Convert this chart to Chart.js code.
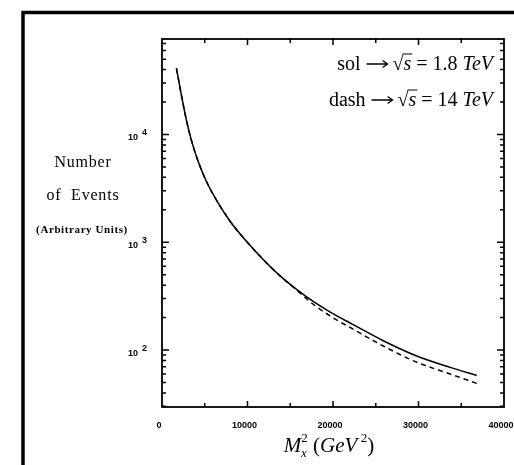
<!DOCTYPE html>
<html lang="en">
<head>
  <meta charset="UTF-8">
  <title>Number of Events vs Mx^2</title>
  <script src="https://cdn.jsdelivr.net/npm/chart.js"></script>
  <style>
    body {
      margin: 0;
      background: #fff;
    }

    #chartContainer {
      width: 514px;
      height: 465px;
    }
  </style>
</head>
<body>
  <div id="chartContainer">
    <canvas id="myChart"></canvas>
  </div>

  <script>
    // values (x in GeV^2, y in arbitrary units)
    const xValues = [1690, 2270, 2860, 3440, 4220, 5200, 6560, 8000, 9880, 11830, 13780, 15740, 17680, 19630, 22300, 25880, 29790, 33690, 36810];
    const solidValues = [41100, 23200, 13500, 8810, 5650, 3660, 2320, 1550, 1020, 692, 490, 365, 282, 226, 173, 122, 88, 69, 58];
    const dashedValues = [41100, 23200, 13500, 8810, 5650, 3660, 2320, 1550, 1020, 692, 490, 361, 266, 208, 157, 109, 77, 60, 49];

    const xTickLabels = [0, 10000, 20000, 30000, 40000];
    const yTickLabels = [100, 1000, 10000];
    const xMin = 0, xMax = 40000;
    const yMin = 29.6, yMax = 76900;

    const serif = '"Liberation Serif", "DejaVu Serif", serif';
    const sans = '"Liberation Sans", Arial, sans-serif';

    function toPoints(xs, ys) {
      return xs.map((x, i) => ({ x: x, y: ys[i] }));
    }

    // draws a row of text pieces with different fonts; p.gap leaves blank room (for the arrow)
    function drawPieces(ctx, pieces, x, y, align) {
      let total = 0;
      pieces.forEach(p => {
        ctx.font = p.font || ctx.font;
        p.w = p.gap ? p.gap : ctx.measureText(p.t).width;
        total += p.w;
      });
      let cx = align === 'right' ? x - total : align === 'center' ? x - total / 2 : x;
      pieces.forEach(p => {
        if (!p.gap) {
          ctx.font = p.font;
          ctx.fillText(p.t, cx, y + (p.dy || 0));
        }
        p.x = cx;
        cx += p.w;
      });
      return pieces;
    }

    const paperPlugin = {
      id: 'paper',
      afterDraw(chart) {
        const ctx = chart.ctx;
        const area = chart.chartArea;
        const xs = chart.scales.x;
        const ys = chart.scales.y;
        ctx.save();
        ctx.fillStyle = '#000';
        ctx.strokeStyle = '#000';

        // scanned page frame
        ctx.lineWidth = 3.5;
        ctx.beginPath();
        ctx.moveTo(23, 465);
        ctx.lineTo(23, 12.5);
        ctx.lineTo(514, 12.5);
        ctx.stroke();

        // plot box
        ctx.lineWidth = 1.8;
        ctx.strokeRect(area.left, area.top, area.right - area.left, area.bottom - area.top);

        // inward ticks, x axis (bottom and top)
        ctx.lineWidth = 1.5;
        for (let v = 5000; v < xMax; v += 5000) {
          const px = xs.getPixelForValue(v);
          const len = v % 10000 === 0 ? 6 : 4;
          ctx.beginPath();
          ctx.moveTo(px, area.bottom);
          ctx.lineTo(px, area.bottom - len);
          ctx.moveTo(px, area.top);
          ctx.lineTo(px, area.top + len);
          ctx.stroke();
        }

        // inward ticks, log y axis (left and right)
        for (let dec = 1; dec <= 4; dec++) {
          for (let m = 1; m <= 9; m++) {
            const v = m * Math.pow(10, dec);
            if (v < yMin || v > yMax) continue;
            const py = ys.getPixelForValue(v);
            const len = m === 1 ? 7 : 4;
            ctx.beginPath();
            ctx.moveTo(area.left, py);
            ctx.lineTo(area.left + len, py);
            ctx.moveTo(area.right, py);
            ctx.lineTo(area.right - len, py);
            ctx.stroke();
          }
        }

        // x tick labels
        ctx.textBaseline = 'middle';
        ctx.textAlign = 'center';
        ctx.font = 'bold 9px ' + sans;
        xTickLabels.forEach(v => {
          ctx.fillText(String(v), xs.getPixelForValue(v) - 3, 426);
        });

        // y tick labels as 10 with superscript exponent
        yTickLabels.forEach(v => {
          const py = ys.getPixelForValue(v);
          const exp = Math.round(Math.log10(v));
          ctx.font = 'bold 9px ' + sans;
          ctx.textAlign = 'right';
          ctx.fillText('10', 138, py + 3);
          ctx.textAlign = 'left';
          ctx.fillText(String(exp), 142, py - 2);
        });

        // y axis title, written horizontally
        ctx.textAlign = 'center';
        ctx.letterSpacing = '0.8px';
        ctx.font = '16px ' + serif;
        ctx.fillText('Number', 83, 163);
        ctx.fillText('of  Events', 83, 196);
        ctx.letterSpacing = '0.6px';
        ctx.font = 'bold 11px ' + serif;
        ctx.fillText('(Arbitrary Units)', 82, 230);
        ctx.letterSpacing = '0px';

        // legend lines
        ctx.textAlign = 'left';
        ctx.textBaseline = 'alphabetic';
        const fs = 20;
        const rom = fs + 'px ' + serif;
        const ita = 'italic ' + fs + 'px ' + serif;
        [['sol', '1.8'], ['dash', '14']].forEach((row, i) => {
          const base = 70 + i * 36;
          const parts = drawPieces(ctx, [
            { t: row[0] + ' ', font: rom },
            { gap: 22 },
            { t: ' \u221A', font: rom },
            { t: 's', font: ita },
            { t: ' = ' + row[1] + ' ', font: rom },
            { t: 'TeV', font: ita }
          ], 493, base, 'right');
          // arrow
          const ay = base - fs * 0.3;
          const ax0 = parts[1].x + 1, ax1 = parts[1].x + parts[1].w;
          ctx.lineWidth = 1.3;
          ctx.beginPath();
          ctx.moveTo(ax0, ay);
          ctx.lineTo(ax1, ay);
          ctx.moveTo(ax1 - 5, ay - 3.5);
          ctx.lineTo(ax1, ay);
          ctx.lineTo(ax1 - 5, ay + 3.5);
          ctx.stroke();
          // root bar
          ctx.lineWidth = 1;
          ctx.beginPath();
          ctx.moveTo(parts[2].x + parts[2].w - 1, base - fs * 0.8);
          ctx.lineTo(parts[3].x + parts[3].w + 1, base - fs * 0.8);
          ctx.stroke();
        });

        // x axis title: M_x^2 (GeV^2)
        const tfs = 21;
        const tRom = tfs + 'px ' + serif;
        const tIta = 'italic ' + tfs + 'px ' + serif;
        const tBase = 452;
        const title = drawPieces(ctx, [
          { t: 'M', font: tIta },
          { t: '2', font: '13px ' + serif, dy: -10 },
          { t: ' (', font: tRom },
          { t: 'GeV', font: tIta },
          { t: ' 2', font: '13px ' + serif, dy: -10 },
          { t: ')', font: tRom }
        ], 329, tBase, 'center');
        ctx.font = 'italic 12px ' + serif;
        ctx.fillText('x', title[1].x, tBase + 5);

        ctx.restore();
      }
    };

    const ctx = document.getElementById('myChart').getContext('2d');

    const myChart = new Chart(ctx, {
      type: 'line',
      data: {
        datasets: [
          {
            label: 'dash',
            data: toPoints(xValues, dashedValues),
            borderColor: '#000',
            borderWidth: 1.5,
            borderDash: [5, 4],
            pointRadius: 0,
            fill: false,
            cubicInterpolationMode: 'monotone'
          },
          {
            label: 'sol',
            data: toPoints(xValues, solidValues),
            borderColor: '#000',
            borderWidth: 1.5,
            pointRadius: 0,
            fill: false,
            cubicInterpolationMode: 'monotone'
          }
        ]
      },
      options: {
        responsive: true,
        maintainAspectRatio: false,
        animation: false,
        layout: {
          padding: { left: 162, top: 39, right: 10, bottom: 58 }
        },
        scales: {
          x: {
            type: 'linear',
            min: xMin,
            max: xMax,
            display: false
          },
          y: {
            type: 'logarithmic',
            min: yMin,
            max: yMax,
            display: false
          }
        },
        plugins: {
          legend: { display: false },
          tooltip: { enabled: false }
        }
      },
      plugins: [paperPlugin]
    });
  </script>
</body>
</html>
